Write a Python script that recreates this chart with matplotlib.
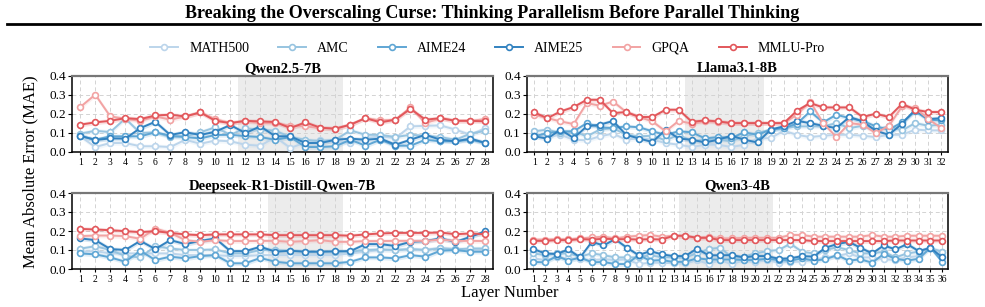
import matplotlib
matplotlib.use("Agg")
import matplotlib.pyplot as plt
from matplotlib.lines import Line2D
import numpy as np

plt.rcParams['font.family'] = ['Liberation Serif', 'DejaVu Serif']

series_names = ["MATH500", "AMC", "AIME24", "AIME25", "GPQA", "MMLU-Pro"]
series_colors = ["#bcd5eb", "#97c4e0", "#5fa6d4", "#3282c0", "#f2a3a3", "#e2575b"]

panel_titles = ["Qwen2.5-7B", "Llama3.1-8B", "Deepseek-R1-Distill-Qwen-7B", "Qwen3-4B"]
panel_layers = [28, 32, 28, 36]
panel_spans = [(12, 18), (13, 18), (14, 18), (14, 21)]

# ---- Qwen2.5-7B ----
qwen25_math500 = [0.082,0.026,0.047,0.047,0.030,0.030,0.026,0.064,0.043,0.060,0.056,0.038,0.033,0.078,0.021,0.050,0.064,0.056,0.047,0.073,0.082,0.073,0.134,0.137,0.139,0.117,0.090,0.125]
qwen25_amc = [0.096,0.111,0.104,0.175,0.099,0.103,0.078,0.082,0.103,0.129,0.090,0.123,0.117,0.111,0.078,0.064,0.056,0.064,0.113,0.090,0.090,0.078,0.090,0.085,0.078,0.064,0.096,0.111]
qwen25_aime24 = [0.083,0.064,0.082,0.082,0.082,0.103,0.085,0.078,0.071,0.089,0.090,0.083,0.078,0.064,0.078,0.026,0.026,0.030,0.064,0.033,0.064,0.033,0.033,0.064,0.056,0.056,0.064,0.047]
qwen25_aime25 = [0.085,0.063,0.071,0.070,0.125,0.158,0.089,0.104,0.089,0.106,0.141,0.099,0.134,0.082,0.082,0.047,0.047,0.064,0.070,0.064,0.070,0.038,0.064,0.090,0.064,0.056,0.070,0.047]
qwen25_gpqa = [0.235,0.300,0.186,0.174,0.163,0.186,0.169,0.186,0.207,0.172,0.151,0.163,0.151,0.151,0.137,0.134,0.125,0.122,0.143,0.177,0.165,0.169,0.233,0.151,0.177,0.163,0.163,0.172]
qwen25_mmlu = [0.143,0.155,0.163,0.177,0.172,0.191,0.195,0.186,0.207,0.163,0.151,0.163,0.160,0.157,0.125,0.155,0.127,0.122,0.143,0.177,0.155,0.169,0.226,0.169,0.177,0.163,0.163,0.160]

# ---- Llama3.1-8B ----
llama_math500 = [0.096,0.078,0.090,0.064,0.061,0.082,0.096,0.064,0.073,0.064,0.047,0.038,0.026,0.038,0.038,0.026,0.038,0.070,0.073,0.111,0.090,0.078,0.085,0.090,0.090,0.085,0.078,0.090,0.090,0.117,0.113,0.113]
llama_amc = [0.108,0.117,0.099,0.108,0.082,0.117,0.125,0.090,0.082,0.085,0.061,0.090,0.056,0.064,0.064,0.056,0.082,0.099,0.117,0.125,0.134,0.134,0.134,0.151,0.125,0.137,0.117,0.134,0.113,0.151,0.137,0.143]
llama_aime24 = [0.082,0.099,0.108,0.108,0.151,0.129,0.125,0.134,0.129,0.108,0.090,0.108,0.103,0.071,0.078,0.073,0.103,0.090,0.117,0.125,0.148,0.212,0.155,0.195,0.177,0.163,0.134,0.117,0.155,0.212,0.169,0.165]
llama_aime25 = [0.082,0.070,0.117,0.073,0.134,0.143,0.162,0.090,0.070,0.052,0.117,0.070,0.064,0.050,0.064,0.085,0.064,0.050,0.117,0.134,0.163,0.151,0.137,0.125,0.183,0.160,0.111,0.090,0.148,0.221,0.172,0.177]
llama_gpqa = [0.195,0.177,0.160,0.146,0.256,0.242,0.264,0.209,0.183,0.160,0.108,0.163,0.148,0.160,0.158,0.151,0.151,0.151,0.151,0.151,0.195,0.264,0.151,0.078,0.151,0.143,0.099,0.137,0.238,0.230,0.172,0.125]
llama_mmlu = [0.207,0.177,0.212,0.235,0.273,0.273,0.203,0.209,0.183,0.183,0.221,0.221,0.158,0.165,0.160,0.151,0.151,0.151,0.151,0.151,0.216,0.256,0.233,0.233,0.233,0.183,0.200,0.183,0.252,0.221,0.209,0.209]

# ---- Deepseek-R1-Distill-Qwen-7B ----
ds_math500 = [0.091,0.094,0.082,0.082,0.082,0.082,0.082,0.073,0.073,0.073,0.068,0.068,0.073,0.073,0.073,0.073,0.073,0.073,0.082,0.091,0.100,0.100,0.103,0.100,0.112,0.105,0.100,0.100]
ds_amc = [0.107,0.120,0.100,0.068,0.061,0.120,0.108,0.100,0.100,0.103,0.082,0.082,0.100,0.100,0.095,0.091,0.091,0.091,0.091,0.100,0.103,0.100,0.105,0.100,0.108,0.103,0.108,0.108]
ds_aime24 = [0.082,0.077,0.061,0.038,0.096,0.047,0.065,0.056,0.068,0.073,0.030,0.030,0.058,0.038,0.030,0.030,0.030,0.030,0.038,0.061,0.061,0.056,0.073,0.065,0.096,0.100,0.091,0.091]
ds_aime25 = [0.161,0.152,0.105,0.100,0.148,0.105,0.152,0.131,0.148,0.161,0.094,0.094,0.117,0.091,0.096,0.091,0.091,0.093,0.094,0.131,0.131,0.121,0.143,0.147,0.161,0.143,0.169,0.199]
ds_gpqa = [0.173,0.176,0.176,0.173,0.159,0.213,0.190,0.152,0.143,0.152,0.147,0.147,0.148,0.148,0.143,0.147,0.152,0.143,0.143,0.147,0.147,0.148,0.148,0.148,0.155,0.148,0.148,0.147]
ds_mmlu = [0.211,0.208,0.204,0.199,0.194,0.199,0.190,0.182,0.178,0.182,0.182,0.182,0.182,0.178,0.178,0.178,0.178,0.178,0.175,0.182,0.187,0.190,0.190,0.190,0.192,0.183,0.187,0.183]

# ---- Qwen3-4B ----
q3_math500 = [0.056,0.047,0.061,0.056,0.051,0.047,0.051,0.047,0.051,0.026,0.033,0.033,0.030,0.030,0.047,0.026,0.047,0.024,0.047,0.038,0.047,0.033,0.038,0.038,0.047,0.061,0.068,0.082,0.061,0.061,0.051,0.047,0.061,0.068,0.108,0.091]
q3_amc = [0.082,0.073,0.082,0.082,0.065,0.082,0.073,0.061,0.061,0.061,0.073,0.061,0.061,0.061,0.082,0.105,0.112,0.061,0.065,0.082,0.094,0.100,0.133,0.091,0.082,0.100,0.114,0.100,0.082,0.082,0.091,0.061,0.082,0.091,0.108,0.091]
q3_aime24 = [0.037,0.035,0.068,0.044,0.061,0.035,0.037,0.026,0.026,0.073,0.044,0.047,0.037,0.038,0.056,0.050,0.050,0.050,0.047,0.047,0.054,0.047,0.044,0.056,0.044,0.051,0.073,0.044,0.051,0.033,0.079,0.054,0.044,0.054,0.112,0.038]
q3_aime25 = [0.105,0.082,0.079,0.103,0.061,0.143,0.124,0.157,0.112,0.073,0.094,0.077,0.068,0.068,0.107,0.072,0.072,0.073,0.061,0.068,0.068,0.054,0.056,0.068,0.065,0.112,0.131,0.143,0.112,0.082,0.124,0.103,0.131,0.094,0.112,0.061]
q3_gpqa = [0.155,0.155,0.157,0.157,0.161,0.166,0.170,0.161,0.170,0.175,0.179,0.170,0.175,0.173,0.164,0.170,0.161,0.161,0.164,0.164,0.164,0.164,0.179,0.179,0.170,0.170,0.170,0.170,0.170,0.179,0.170,0.170,0.175,0.175,0.175,0.175]
q3_mmlu = [0.148,0.148,0.152,0.152,0.157,0.155,0.159,0.157,0.157,0.155,0.157,0.155,0.175,0.175,0.164,0.164,0.152,0.152,0.152,0.152,0.152,0.152,0.152,0.152,0.147,0.147,0.147,0.147,0.147,0.147,0.147,0.150,0.150,0.150,0.150,0.150]

panel_data = [
    [qwen25_math500, qwen25_amc, qwen25_aime24, qwen25_aime25, qwen25_gpqa, qwen25_mmlu],
    [llama_math500, llama_amc, llama_aime24, llama_aime25, llama_gpqa, llama_mmlu],
    [ds_math500, ds_amc, ds_aime24, ds_aime25, ds_gpqa, ds_mmlu],
    [q3_math500, q3_amc, q3_aime24, q3_aime25, q3_gpqa, q3_mmlu],
]

W, H = 985, 307
fig = plt.figure(figsize=(W / 100, H / 100), dpi=100)

def frac_rect(x0, y0, x1, y1):
    return [x0 / W, 1 - y1 / H, (x1 - x0) / W, (y1 - y0) / H]

rects = [
    frac_rect(72, 75.5, 493, 152),
    frac_rect(527, 75.5, 948, 152),
    frac_rect(72, 193, 493, 269),
    frac_rect(527, 193, 948, 269),
]

for p in range(4):
    ax = fig.add_axes(rects[p])
    n = panel_layers[p]
    x = np.arange(1, n + 1)
    ax.axvspan(panel_spans[p][0] - 0.5, panel_spans[p][1] + 0.5, color="#ececec", zorder=0, lw=0)
    for s in range(6):
        y = np.array(panel_data[p][s])
        c = series_colors[s]
        ax.fill_between(x, y - 0.012, y + 0.012, color=c, alpha=0.18, lw=0, zorder=1)
        ax.plot(x, y, color=c, lw=1.4, marker="o", ms=4.2, mfc="white", mec=c, mew=1.2, zorder=3 + s * 0.1)
    ax.set_xlim(0.45, n + 0.5)
    ax.set_ylim(0, 0.4)
    ax.set_yticks([0.0, 0.1, 0.2, 0.3, 0.4])
    ax.set_yticklabels(["0.0", "0.1", "0.2", "0.3", "0.4"], fontsize=9.5)
    ax.set_xticks(x)
    ax.set_xticklabels([str(i) for i in x], fontsize=7)
    ax.tick_params(axis="x", length=2.5, width=0.8, pad=2)
    ax.tick_params(axis="y", length=3, width=0.8, pad=1.5)
    ax.grid(True, ls=(0, (4, 3)), color="#d3d3d3", lw=0.7, zorder=0.5)
    ax.set_axisbelow(True)
    for side in ["left", "right", "bottom"]:
        ax.spines[side].set_color("black")
        ax.spines[side].set_linewidth(1.1)
    ax.spines["top"].set_color("#777777")
    ax.spines["top"].set_linewidth(1.6)
    ax.set_title(panel_titles[p], fontsize=10.5, fontweight="bold", pad=2.5)

fig.text(0.5, 1 - 13 / H, "Breaking the Overscaling Curse: Thinking Parallelism Before Parallel Thinking",
         ha="center", va="center", fontsize=13, fontweight="bold")
fig.add_artist(Line2D([7 / W, 980 / W], [1 - 24 / H, 1 - 24 / H], color="black", lw=2))

handles = [Line2D([0], [0], color=series_colors[s], lw=1.4, marker="o", ms=4.2, mfc="white",
                  mec=series_colors[s], mew=1.2) for s in range(6)]
fig.legend(handles, series_names, loc="center", bbox_to_anchor=(0.495, 1 - 48 / H), ncol=6,
           frameon=False, fontsize=10, handlelength=2.0, columnspacing=2.1, handletextpad=0.8)

fig.text(30 / W, 1 - 172 / H, "Mean Absolute Error (MAE)", rotation=90, ha="center", va="center", fontsize=12)
fig.text(510 / W, 1 - 293 / H, "Layer Number", ha="center", va="center", fontsize=12)

fig.savefig("out.png", dpi=100)
